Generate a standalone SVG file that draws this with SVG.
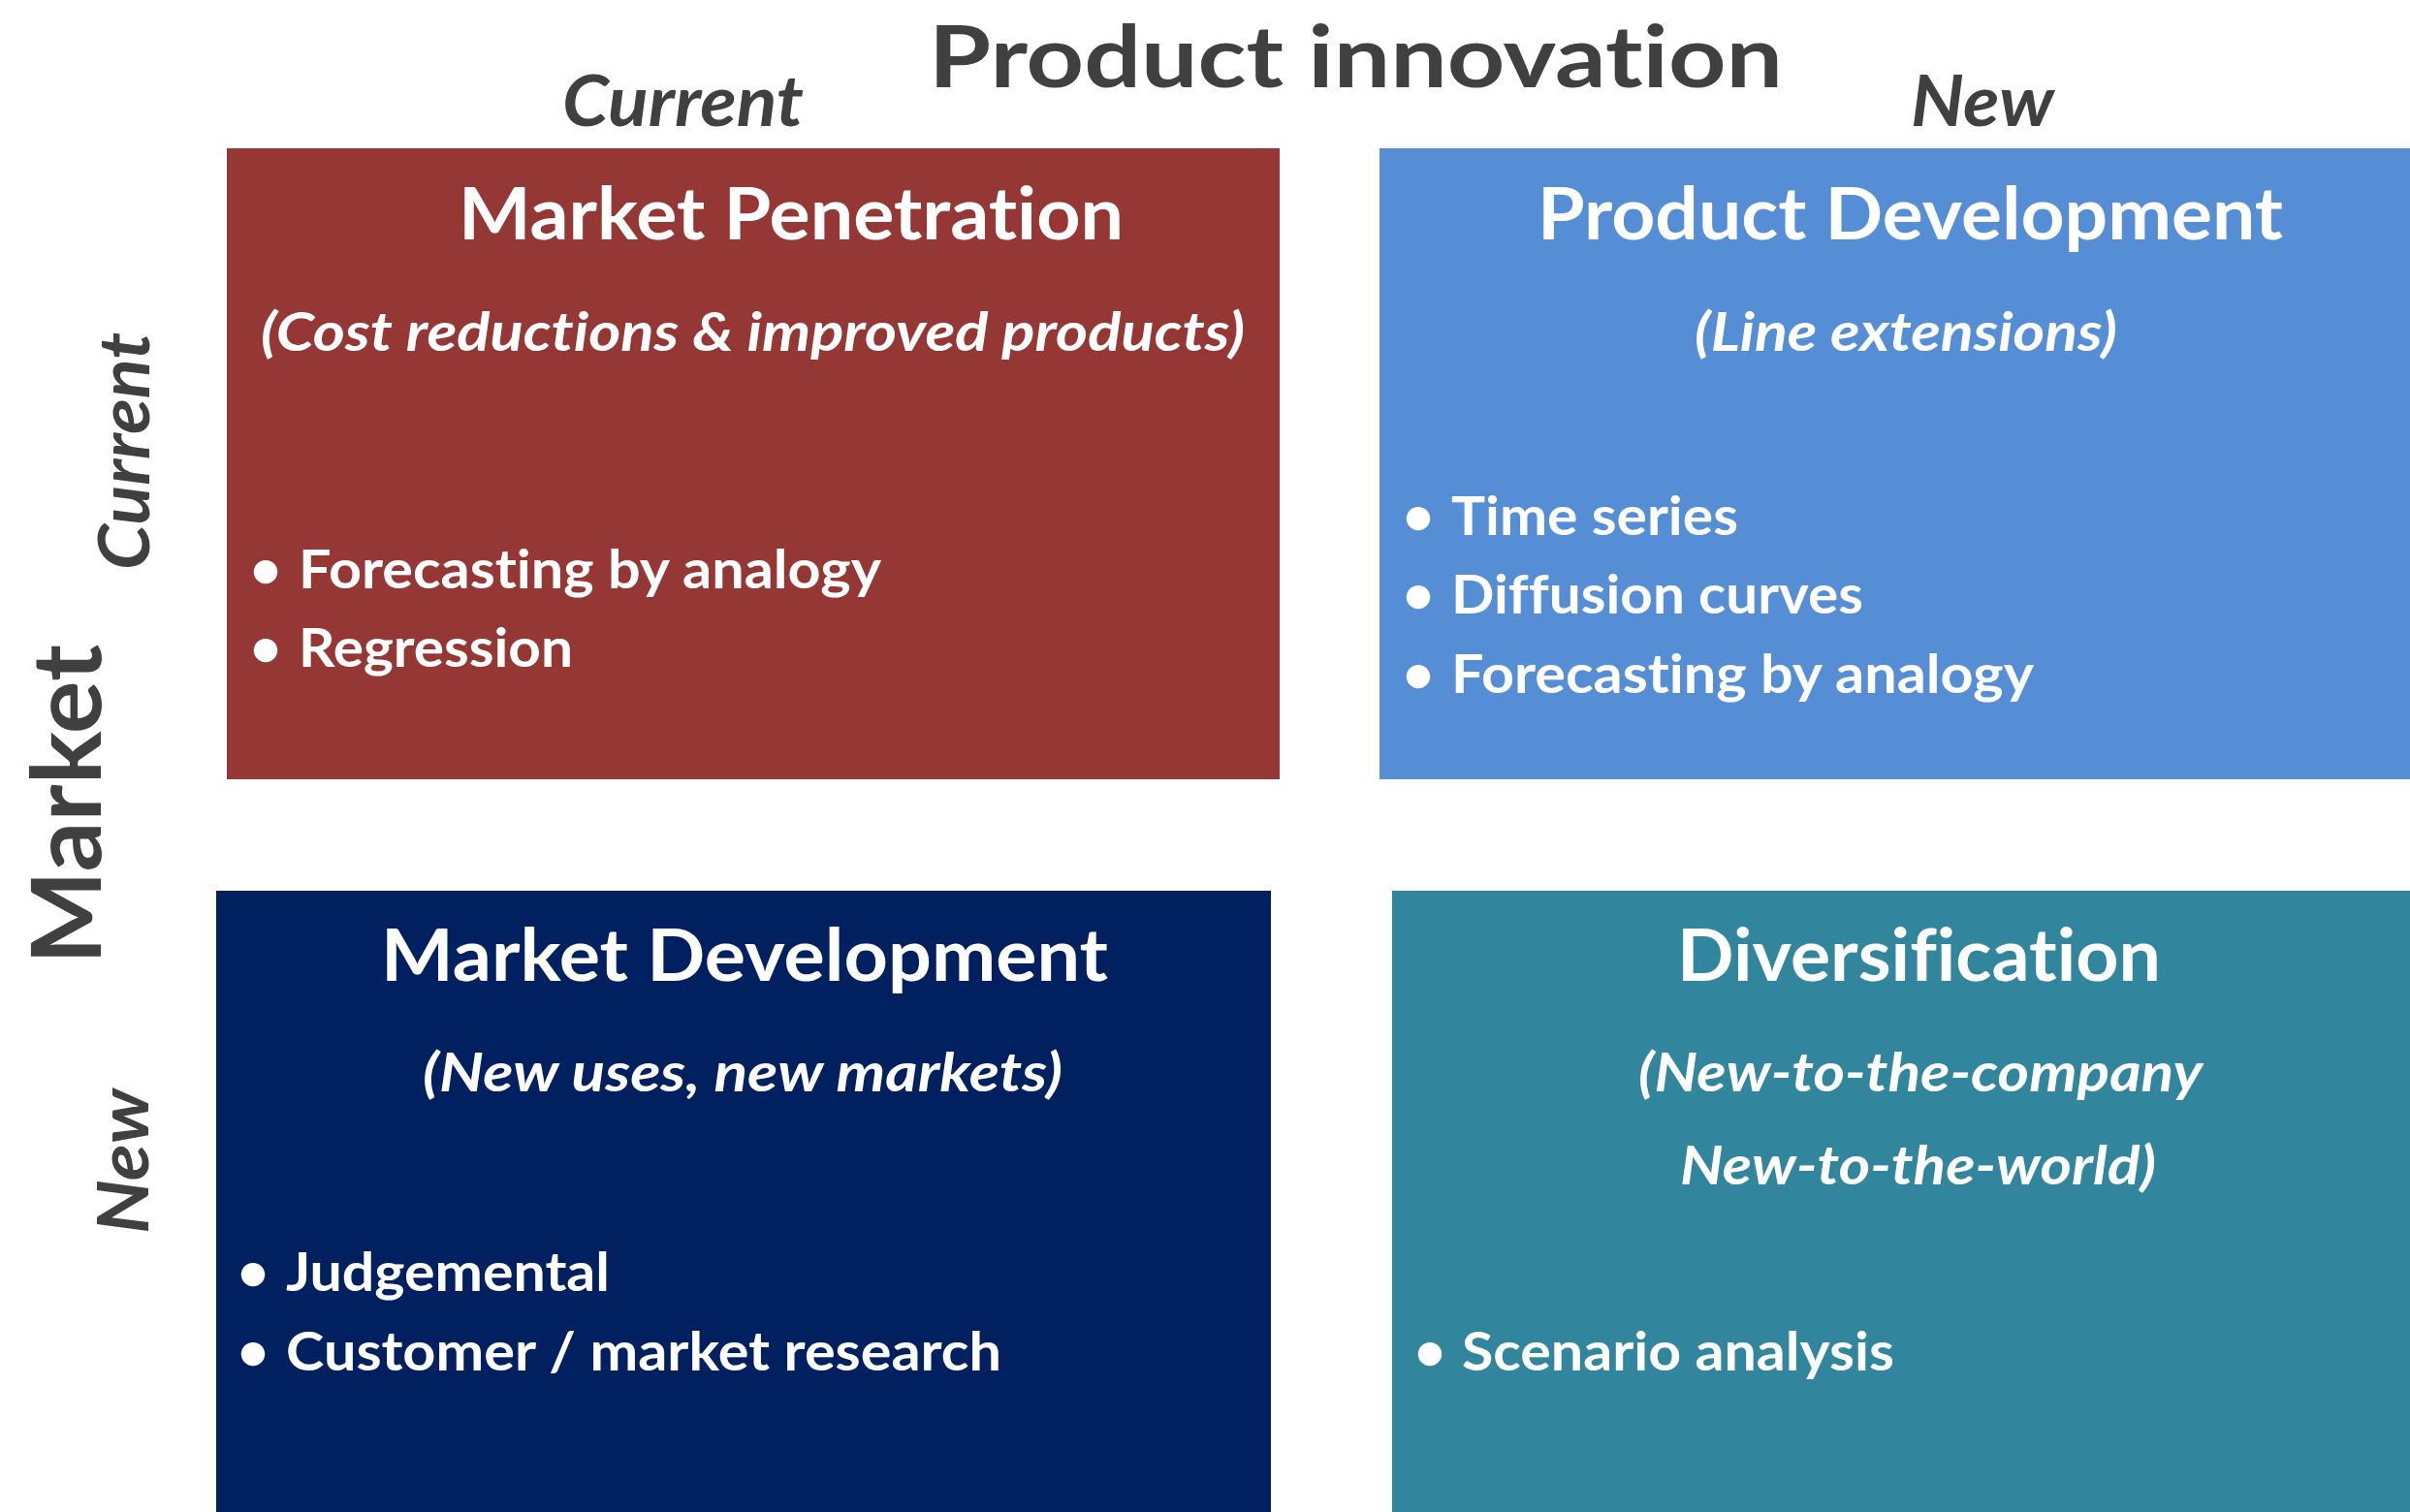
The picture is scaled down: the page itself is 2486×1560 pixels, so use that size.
<svg xmlns="http://www.w3.org/2000/svg" width="2486" height="1560" viewBox="0 0 2486 1560">
  <style>
    text { font-family: Lato, "Open Sans", "Liberation Sans", sans-serif; font-weight: bold; font-variant-ligatures: none; font-feature-settings: "liga" 0, "dlig" 0; }
    .axis { fill: #404040; }
    .axis-title { font-size: 88px; }
    .market { font-size: 99px; }
    .level { font-size: 72px; font-style: italic; }
    .cell text { fill: #ffffff; }
    .head { font-size: 75px; }
    .sub { font-size: 56px; font-style: italic; }
    .item { font-size: 56px; }
    .dot { font-size: 56px; text-anchor: middle; }
  </style>
  <rect width="2486" height="1560" fill="#ffffff"/>

  <!-- axis labels -->
  <g id="axis-product">
    <text class="axis axis-title" x="958" y="90" textLength="881" lengthAdjust="spacingAndGlyphs">Product innovation</text>
    <text class="axis level" x="580" y="130" textLength="249" lengthAdjust="spacingAndGlyphs">Current</text>
    <text class="axis level" x="1971" y="130" textLength="148" lengthAdjust="spacingAndGlyphs">New</text>
  </g>
  <g id="axis-market">
    <text class="axis market" transform="translate(104,995) rotate(-90)" textLength="330" lengthAdjust="spacingAndGlyphs">Market</text>
    <text class="axis level" transform="translate(154,588) rotate(-90)" textLength="245" lengthAdjust="spacingAndGlyphs">Current</text>
    <text class="axis level" transform="translate(153,1273) rotate(-90)" textLength="150" lengthAdjust="spacingAndGlyphs">New</text>
  </g>

  <!-- quadrant: current market / current product -->
  <g id="market-penetration" class="cell">
    <rect x="234" y="153" width="1086" height="651" fill="#953735"/>
    <text class="head" x="473" y="247" textLength="686" lengthAdjust="spacingAndGlyphs">Market Penetration</text>
    <text class="sub" x="269" y="362" textLength="1015" lengthAdjust="spacingAndGlyphs">(Cost reductions &amp; improved products)</text>
    <text class="dot" x="274" y="607">•</text>
    <text class="item" x="308" y="607" textLength="601" lengthAdjust="spacingAndGlyphs">Forecasting by analogy</text>
    <text class="dot" x="274" y="688">•</text>
    <text class="item" x="308" y="688" textLength="283" lengthAdjust="spacingAndGlyphs">Regression</text>
  </g>

  <!-- quadrant: current market / new product -->
  <g id="product-development" class="cell">
    <rect x="1423" y="153" width="1063" height="651" fill="#558ed5"/>
    <text class="head" x="1586" y="247" textLength="769" lengthAdjust="spacingAndGlyphs">Product Development</text>
    <text class="sub" x="1748" y="362" textLength="436" lengthAdjust="spacingAndGlyphs">(Line extensions)</text>
    <text class="dot" x="1463" y="552">•</text>
    <text class="item" x="1497" y="552" textLength="296" lengthAdjust="spacingAndGlyphs">Time series</text>
    <text class="dot" x="1463" y="633">•</text>
    <text class="item" x="1497" y="633" textLength="425" lengthAdjust="spacingAndGlyphs">Diffusion curves</text>
    <text class="dot" x="1463" y="715">•</text>
    <text class="item" x="1497" y="715" textLength="601" lengthAdjust="spacingAndGlyphs">Forecasting by analogy</text>
  </g>

  <!-- quadrant: new market / current product -->
  <g id="market-development" class="cell">
    <rect x="223" y="919" width="1088" height="641" fill="#002060"/>
    <text class="head" x="393" y="1012" textLength="750" lengthAdjust="spacingAndGlyphs">Market Development</text>
    <text class="sub" x="436" y="1126" textLength="660" lengthAdjust="spacingAndGlyphs">(New uses, new markets)</text>
    <text class="dot" x="261" y="1332">•</text>
    <text class="item" x="295" y="1332" textLength="334" lengthAdjust="spacingAndGlyphs">Judgemental</text>
    <text class="dot" x="261" y="1414">•</text>
    <text class="item" x="295" y="1414" textLength="738" lengthAdjust="spacingAndGlyphs">Customer / market research</text>
  </g>

  <!-- quadrant: new market / new product -->
  <g id="diversification" class="cell">
    <rect x="1436" y="919" width="1050" height="641" fill="#31859c"/>
    <text class="head" x="1730" y="1012" textLength="499" lengthAdjust="spacingAndGlyphs">Diversification</text>
    <text class="sub" x="1690" y="1126" textLength="582" lengthAdjust="spacingAndGlyphs">(New-to-the-company</text>
    <text class="sub" x="1733" y="1222" textLength="491" lengthAdjust="spacingAndGlyphs">New-to-the-world)</text>
    <text class="dot" x="1475" y="1414">•</text>
    <text class="item" x="1508" y="1414" textLength="446" lengthAdjust="spacingAndGlyphs">Scenario analysis</text>
  </g>

  <!-- no connectors between quadrants -->
  <g id="connectors"/>
</svg>
